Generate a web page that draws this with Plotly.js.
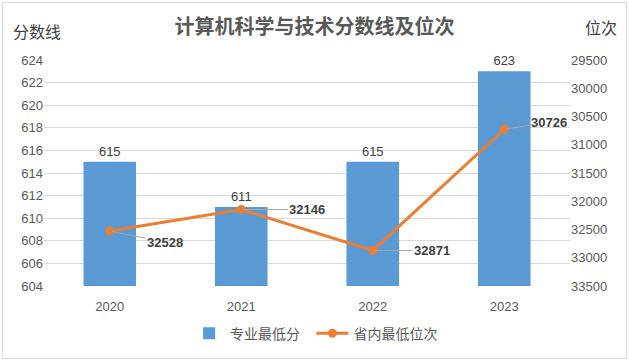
<!DOCTYPE html>
<html><head><meta charset="utf-8">
<script src="https://cdn.plot.ly/plotly-3.0.1.min.js"></script>
<style>
body{margin:0;background:#fff;}
#chart{width:629px;height:360px;}
#frame{position:absolute;left:2px;top:2px;width:623px;height:355px;border:1px solid #D9D9D9;pointer-events:none;}
</style></head>
<body>
<div id="chart"></div><div id="frame"></div>
<script>
const years = ['2020','2021','2022','2023'];
const minScore = [615, 611, 615, 623];
const minRank = [32528, 32146, 32871, 30726];
const rankLabelOffsets = [[55,11],[66,0],[59,0],[45,-7]];

const FONT = 'Liberation Sans, Noto Sans CJK SC, sans-serif';
const CJK = 'Noto Sans CJK SC, sans-serif';

const traces = [
  {type:'bar', name:'专业最低分\u00a0\u00a0', x:years, y:minScore, marker:{color:'#5B9BD5'},
   text:minScore.map(String), textposition:'outside', cliponaxis:false,
   textfont:{color:'#404040', size:13, family:FONT}, hoverinfo:'none'},
  {type:'scatter', mode:'lines+markers', name:'省内最低位次', x:years, y:minRank, yaxis:'y2',
   line:{color:'#ED7D31', width:3}, marker:{color:'#ED7D31', size:9}, hoverinfo:'none'}
];

const annotations = minRank.map((v,i)=>({
  x:i, y:v, xref:'x', yref:'y2', text:'<b>'+v+'</b>',
  showarrow:true, arrowhead:0, arrowwidth:1, arrowcolor:'#A6A6A6',
  ax:rankLabelOffsets[i][0], ay:rankLabelOffsets[i][1], standoff:2,
  font:{color:'#404040', size:13, family:FONT}
}));
annotations.push(
  {xref:'paper', yref:'paper', x:-0.062, y:1.13, xanchor:'left', yanchor:'middle', showarrow:false,
   text:'分数线', font:{family:CJK, size:16, color:'#404040'}},
  {xref:'paper', yref:'paper', x:1.025, y:1.145, xanchor:'left', yanchor:'middle', showarrow:false,
   text:'位次', font:{family:CJK, size:16, color:'#404040'}}
);

const layout = {
  width:629, height:360,
  margin:{l:44, r:59, t:60, b:73},
  paper_bgcolor:'#fff', plot_bgcolor:'#fff',
  title:{text:'<b>计算机科学与技术分数线及位次</b>', x:0.5, xanchor:'center', y:0.925, yanchor:'middle',
         font:{family:CJK, size:20, color:'#595959'}},
  bargap:0.6,
  showlegend:true,
  legend:{orientation:'h', x:0.274, xanchor:'left', y:-0.205, yanchor:'middle', itemwidth:32,
          font:{family:CJK, size:14, color:'#595959'}},
  xaxis:{type:'category', range:[-0.5,3.5], autorange:false, tickfont:{family:FONT, size:13, color:'#595959'},
         showgrid:false, showline:false, ticks:'outside', ticklen:8, tickcolor:'rgba(0,0,0,0)'},
  yaxis:{range:[604,624], autorange:false, dtick:2, tick0:604, gridcolor:'#D9D9D9', zeroline:false, showline:false,
         tickfont:{family:FONT, size:13, color:'#595959'}, ticks:''},
  yaxis2:{overlaying:'y', side:'right', range:[33500,29500], autorange:false, dtick:500, tick0:29500, showgrid:false,
          tickformat:'d', zeroline:false, showline:false, tickfont:{family:FONT, size:13, color:'#595959'}, ticks:''},
  annotations:annotations
};
Plotly.newPlot('chart', traces, layout, {displayModeBar:false, staticPlot:true});
</script></body></html>
